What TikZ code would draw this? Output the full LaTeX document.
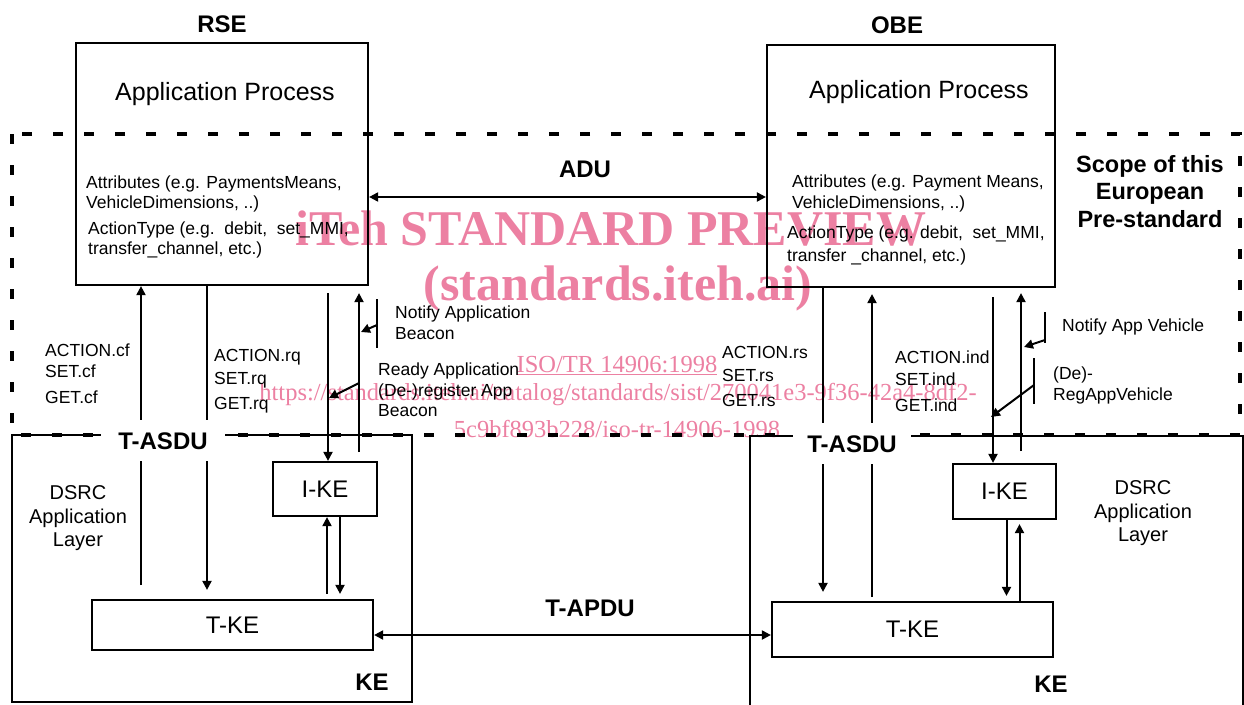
\documentclass[tikz,border=0pt]{standalone}
\usepackage{fontspec}
\setmainfont{Liberation Sans}
\newfontfamily\wmfont{Liberation Serif}
\usetikzlibrary{arrows.meta,calc}
\definecolor{wm}{RGB}{236,128,162}
\tikzset{
  box/.style={draw,line width=2.2pt,inner sep=0pt},
  conn/.style={line width=2pt},
  arr/.style={-{Triangle[length=9pt,width=9pt]}},
  dbl/.style={{Triangle[length=9pt,width=9pt]}-{Triangle[length=9pt,width=9pt]}},
  lbl/.style={font=\fontsize{24}{28}\selectfont\bfseries,inner sep=0pt,anchor=base},
  big/.style={font=\fontsize{25}{30}\selectfont,inner sep=0pt,anchor=base},
  mid/.style={font=\fontsize{20}{24}\selectfont,inner sep=0pt,anchor=base},
  small/.style={font=\fontsize{17.5}{20}\selectfont,inner sep=0pt,anchor=base west},
  scopeline/.style={line width=4pt,dash pattern=on 10pt off 21pt},
  wmk/.style={text=wm,inner sep=0pt,anchor=base},
  blank/.style={lbl,fill=white,text height=17pt,text depth=0pt,inner ysep=12pt},
}
\begin{document}
\begin{tikzpicture}[x=1pt,y=-1pt]
\useasboundingbox (0,0) rectangle (1244,704);

% watermark
\node[wmk,font=\wmfont\bfseries\fontsize{50}{50}\selectfont] (wm1) at (611,245) {iTeh STANDARD PREVIEW};
\node[wmk,font=\wmfont\bfseries\fontsize{50}{50}\selectfont] (wm2) at (618,300) {(standards.iteh.ai)};
\node[wmk,font=\wmfont\fontsize{24.5}{26}\selectfont] (wm3) at (617,372) {\underline{ISO/TR 14906:1998}};
\node[wmk,font=\wmfont\fontsize{24.5}{26}\selectfont] (wm4) at (618,400) {https://standards.iteh.ai/catalog/standards/sist/270041e3-9f36-42a4-8df2-};
\node[wmk,font=\wmfont\fontsize{24.5}{26}\selectfont] (wm5) at (617,437) {5c9bf893b228/iso-tr-14906-1998};

% scope of the pre-standard
\draw[scopeline] (12,134) rectangle (1240,435);

% main boxes
\node[box,minimum width=292pt,minimum height=242pt] (rseap) at (222,164) {};
\node[box,minimum width=288pt,minimum height=242pt] (obeap) at (911,166) {};
\node[box,minimum width=400pt,minimum height=267pt] (keL) at (212,568.5) {};
\node[box,minimum width=493pt,minimum height=276pt] (keR) at (996.5,574) {};
\node[box,minimum width=104pt,minimum height=54pt,font=\fontsize{24}{28}\selectfont] (ikeL) at (325,489) {I-KE};
\node[box,minimum width=281pt,minimum height=50pt,font=\fontsize{24}{28}\selectfont] (tkeL) at (232.5,625) {T-KE};
\node[box,minimum width=103pt,minimum height=55pt,font=\fontsize{24}{28}\selectfont] (ikeR) at (1004.5,491.5) {I-KE};
\node[box,minimum width=281pt,minimum height=55pt,font=\fontsize{24}{28}\selectfont] (tkeR) at (912.5,629.5) {T-KE};

% titles
\node[lbl] (rse) at (222,32) {RSE};
\node[lbl] (obe) at (897,33) {OBE};
\node[big] (rseapt) at (225,100) {Application Process};
\node[big] (obeapt) at (919,98) {Application Process};
\node[lbl] (adu) at (585,177) {ADU};
\node[lbl,font=\fontsize{23.5}{27}\selectfont\bfseries] (sc1) at (1150,172) {Scope of this};
\node[lbl,font=\fontsize{23.5}{27}\selectfont\bfseries] (sc2) at (1150,199) {European};
\node[lbl,font=\fontsize{23.5}{27}\selectfont\bfseries] (sc3) at (1150,227) {Pre-standard};
\node[lbl] (tapdu) at (590,616) {T-APDU};
\node[lbl] (keLt) at (372,690) {KE};
\node[lbl] (keRt) at (1051,692) {KE};

% box texts
\node[small] (la1) at (86,188) {Attributes (e.g. PaymentsMeans,};
\node[small] (la2) at (86,208) {VehicleDimensions, ..)};
\node[small] (la3) at (88,234) {ActionType (e.g.\ \ debit,\ \ set\_MMI,};
\node[small] (la4) at (88,254) {transfer\_channel, etc.)};
\node[small] (ra1) at (792,187) {Attributes (e.g. Payment Means,};
\node[small] (ra2) at (792,208) {VehicleDimensions, ..)};
\node[small] (ra3) at (787,238) {ActionType (e.g. debit,\ \ set\_MMI,};
\node[small] (ra4) at (787,261) {transfer \_channel, etc.)};

% DSRC labels
\node[mid] (dl1) at (78,499) {DSRC};
\node[mid] (dl2) at (78,523) {Application};
\node[mid] (dl3) at (78,546) {Layer};
\node[mid] (dr1) at (1143,494) {DSRC};
\node[mid] (dr2) at (1143,518) {Application};
\node[mid] (dr3) at (1143,541) {Layer};

% primitive labels
\node[small] (p1) at (45,356) {ACTION.cf};
\node[small] (p2) at (45,377) {SET.cf};
\node[small] (p3) at (45,403) {GET.cf};
\node[small] (p4) at (214,361) {ACTION.rq};
\node[small] (p5) at (214,384) {SET.rq};
\node[small] (p6) at (214,409) {GET.rq};
\node[small] (p7) at (722,358) {ACTION.rs};
\node[small] (p8) at (722,381) {SET.rs};
\node[small] (p9) at (722,406) {GET.rs};
\node[small] (p10) at (895,363) {ACTION.ind};
\node[small] (p11) at (895,385) {SET.ind};
\node[small] (p12) at (895,411) {GET.ind};
\node[small] (n1) at (395,318) {Notify Application};
\node[small] (n2) at (395,339) {Beacon};
\node[small] (n3) at (378,375) {Ready Application};
\node[small] (n4) at (378,396) {(De-)register App};
\node[small] (n5) at (378,416) {Beacon};
\node[small] (n6) at (1062,331) {Notify App Vehicle};
\node[small] (n7) at (1053,379) {(De)-};
\node[small] (n8) at (1053,400) {RegAppVehicle};

% ADU and T-APDU
\draw[conn,dbl] ([yshift=-33pt]rseap.east) -- ([yshift=-33pt]rseap.east -| obeap.west);
\draw[conn,dbl] ([yshift=-10pt]tkeL.east) -- ([yshift=-10pt]tkeL.east -| tkeR.west);

% left primitives
\coordinate (l1) at (141,585);
\draw[conn,arr] (l1) -- (l1 |- rseap.south);
\draw[conn,arr,shorten >=9pt] ([xshift=-15pt]rseap.south) -- ([xshift=-15pt]rseap.south |- tkeL.north);
\coordinate (l3) at (328,293);
\draw[conn,arr] (l3) -- (l3 |- ikeL.north);
\coordinate (l4) at (359,452);
\draw[conn,arr,shorten >=7pt] (l4) -- (l4 |- rseap.south);
\draw[conn,arr,shorten <=5pt] ([xshift=2pt]ikeL.south |- tkeL.north) -- ([xshift=2pt]ikeL.south);
\draw[conn,arr,shorten >=5pt] ([xshift=15pt]ikeL.south) -- ([xshift=15pt]ikeL.south |- tkeL.north);
\coordinate (nb1) at (377,299);
\coordinate (nb2) at (377,348);
\coordinate (nb3) at (377,325);
\coordinate (nb4) at (361,332);
\draw[conn] (nb1) -- (nb2);
\draw[conn,arr] (nb3) -- (nb4);
\coordinate (rd1) at (359,383);
\coordinate (rd2) at (329,398);
\draw[conn,arr] (rd1) -- (rd2);

% right primitives
\draw[conn,arr,shorten >=9pt] ([xshift=-88pt]obeap.south) -- ([xshift=-88pt]obeap.south |- tkeR.north);
\coordinate (r9) at (872,597);
\draw[conn,arr,shorten >=6pt] (r9) -- (r9 |- obeap.south);
\coordinate (r10) at (993,297);
\draw[conn,arr] (r10) -- (r10 |- ikeR.north);
\coordinate (r11) at (1021,451);
\draw[conn,arr,shorten >=5pt] (r11) -- (r11 |- obeap.south);
\draw[conn,arr,shorten >=5pt] ([xshift=2pt]ikeR.south) -- ([xshift=2pt]ikeR.south |- tkeR.north);
\draw[conn,arr,shorten >=4pt] ([xshift=15pt]ikeR.south |- tkeR.north) -- ([xshift=15pt]ikeR.south);
\coordinate (vb1) at (1045,312);
\coordinate (vb2) at (1045,343);
\coordinate (vb3) at (1045,340);
\coordinate (vb4) at (1024,347);
\draw[conn] (vb1) -- (vb2);
\draw[conn,arr] (vb3) -- (vb4);
\coordinate (db1) at (1034,358);
\coordinate (db2) at (1034,404);
\coordinate (db3) at (1034,385);
\coordinate (db4) at (991,417);
\draw[conn] (db1) -- (db2);
\draw[conn,arr] (db3) -- (db4);

% T-ASDU labels interrupting the lines
\node[blank,inner xsep=17pt] (tasduL) at (163,449) {T-ASDU};
\node[blank,inner xsep=14pt] (tasduR) at (852,452) {T-ASDU};
\end{tikzpicture}
\end{document}
